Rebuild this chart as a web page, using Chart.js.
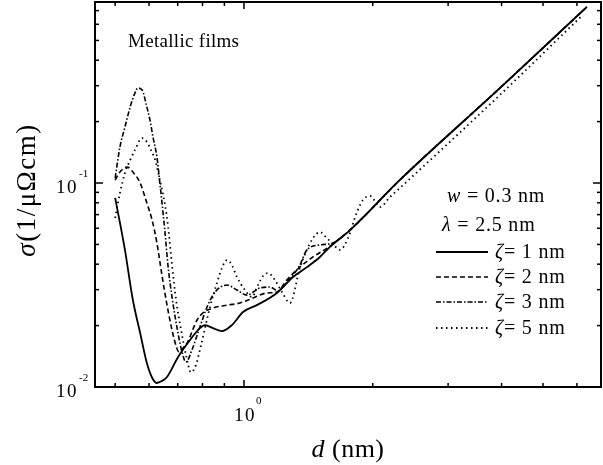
<!DOCTYPE html>
<html><head><meta charset="utf-8">
<script src="https://cdn.jsdelivr.net/npm/chart.js@4/dist/chart.umd.min.js"></script>
<style>html,body{margin:0;padding:0;background:#fff}#wrap{width:603px;height:465px}</style>
</head><body>
<div id="wrap"><canvas id="c" width="603" height="465"></canvas></div>
<script>
// ---- data ----
const dZeta1 = [0.500,0.527,0.550,0.572,0.593,0.610,0.626,0.643,0.661,0.701,0.748,0.789,0.811,0.846,0.888,0.937,0.995,1.072,1.194,1.302,1.403,1.505,1.588,1.769,2.314,3.963,6.33];
const sZeta1 = [0.0845,0.0470,0.0267,0.0184,0.0131,0.0111,0.01046,0.0107,0.0112,0.0140,0.0170,0.01945,0.0201,0.01945,0.0188,0.0201,0.0233,0.0252,0.0289,0.0346,0.0387,0.0434,0.0486,0.0588,0.1035,0.292,0.730];

const dZeta2 = [0.500,0.513,0.533,0.550,0.572,0.593,0.610,0.626,0.643,0.661,0.679,0.694,0.705,0.720,0.736,0.777,0.802,0.846,0.913,0.979,1.050,1.132,1.194,1.260,1.351,1.450,1.588,1.769,2.314,3.963,6.33];
const sZeta2 = [0.1034,0.1132,0.1198,0.1132,0.100,0.0798,0.0658,0.0508,0.0354,0.0252,0.0190,0.0159,0.01484,0.0155,0.0164,0.0213,0.0231,0.0244,0.0252,0.0258,0.0273,0.0289,0.0292,0.0335,0.0387,0.0434,0.0490,0.0588,0.1035,0.292,0.730];

const dZeta3 = [0.500,0.513,0.527,0.542,0.556,0.565,0.578,0.593,0.603,0.613,0.626,0.636,0.647,0.654,0.665,0.679,0.697,0.713,0.732,0.756,0.789,0.820,0.856,0.913,0.963,1.016,1.090,1.150,1.200,1.260,1.351,1.403,1.505,1.614,1.769,2.314,3.963,6.33];
const sZeta3 = [0.1058,0.1502,0.188,0.2358,0.276,0.292,0.2857,0.2358,0.2036,0.168,0.1341,0.100,0.0713,0.0569,0.0387,0.0276,0.0197,0.0155,0.01326,0.0152,0.0197,0.0247,0.0292,0.0316,0.0299,0.0282,0.0306,0.0309,0.0296,0.0327,0.0396,0.0470,0.0497,0.0508,0.0588,0.1035,0.292,0.730];

const dZeta5 = [0.500,0.513,0.527,0.542,0.556,0.578,0.593,0.603,0.620,0.636,0.654,0.665,0.679,0.694,0.713,0.732,0.752,0.772,0.794,0.833,0.865,0.888,0.913,0.937,0.963,1.005,1.044,1.078,1.108,1.138,1.181,1.227,1.281,1.351,1.403,1.450,1.505,1.563,1.614,1.677,1.750,1.837,1.897,1.970,2.079,2.193,2.314,3.963,6.19];
const sZeta5 = [0.0674,0.0893,0.112,0.1296,0.145,0.166,0.159,0.1484,0.1296,0.1034,0.0780,0.0608,0.0396,0.0267,0.0190,0.01435,0.0118,0.0128,0.0161,0.0247,0.0324,0.0383,0.0419,0.0396,0.0346,0.0299,0.0276,0.0316,0.0350,0.0362,0.0335,0.0292,0.0258,0.0383,0.0470,0.0537,0.0575,0.0537,0.0502,0.0470,0.0537,0.0721,0.0825,0.0864,0.0763,0.0853,0.0945,0.270,0.666];

const seriesLabels = ['ζ= 1 nm','ζ= 2 nm','ζ= 3 nm','ζ= 5 nm'];
const paramW = 'w';
const paramWText = ' = 0.3 nm';
const paramL = 'λ';
const paramLText = ' = 2.5 nm';
const panelTitle = 'Metallic films';

const xRange = [0.4486, 6.83];
const yRange = [0.01, 0.7716];
const xMajorTicks = [1];
const xMinorTicks = [0.5,0.6,0.7,0.8,0.9,2,3,4,5,6];
const yMajorTicks = [0.01,0.1];
const yMinorTicks = [0.02,0.03,0.04,0.05,0.06,0.07,0.08,0.09,0.2,0.3,0.4,0.5,0.6,0.7];
const xLabelValues = [1];
const xLabelExps = ['0'];
const yLabelValues = [0.01,0.1];
const yLabelExps = ['-2','-1'];

// ---- styles ----
const dashes = [[], [5,3], [5,2,1.5,2], [1.5,3.5]];
const widths = [1.8, 1.6, 1.6, 1.8];
const SERIF = "'Liberation Serif','Times New Roman',serif";

function pts(d, s){ return d.map((v,i)=>({x:v, y:s[i]})); }
const allD = [dZeta1,dZeta2,dZeta3,dZeta5];
const allS = [sZeta1,sZeta2,sZeta3,sZeta5];

function drawRuns(ctx, runs, x, y, size, align, spacing){
  const sp = spacing || 0;
  let total = 0;
  const ws = runs.map(r=>{ ctx.font = (r.i?'italic ':'') + size + 'px ' + SERIF; const w = ctx.measureText(r.t).width + sp*r.t.length; total += w; return w; });
  let cx = align==='center' ? x - total/2 : (align==='right' ? x - total : x);
  runs.forEach((r,k)=>{
    ctx.font = (r.i?'italic ':'') + size + 'px ' + SERIF; ctx.textAlign='left';
    if (sp) { for (const ch of r.t) { ctx.fillText(ch, cx, y); cx += ctx.measureText(ch).width + sp; } }
    else { ctx.fillText(r.t, cx, y); cx += ws[k]; }
  });
}

const decor = {
  id: 'decor',
  afterDatasetsDraw(chart){
    const {ctx, chartArea:a, scales:{x, y}} = chart;
    ctx.save();
    ctx.strokeStyle = '#000'; ctx.fillStyle = '#000';
    ctx.setLineDash([]);
    ctx.lineWidth = 2;
    ctx.strokeRect(a.left, a.top, a.right-a.left, a.bottom-a.top);
    const seg=(x1,y1,x2,y2)=>{ctx.beginPath();ctx.moveTo(x1,y1);ctx.lineTo(x2,y2);ctx.stroke();};
    ctx.lineWidth = 1.5;
    xMinorTicks.forEach(v=>{const p=x.getPixelForValue(v); seg(p,a.bottom,p,a.bottom-4); seg(p,a.top,p,a.top+4);});
    xMajorTicks.forEach(v=>{const p=x.getPixelForValue(v); seg(p,a.bottom,p,a.bottom-7); seg(p,a.top,p,a.top+7);});
    yMinorTicks.forEach(v=>{const p=y.getPixelForValue(v); seg(a.left,p,a.left+4,p); seg(a.right,p,a.right-4,p);});
    yMajorTicks.forEach(v=>{const p=y.getPixelForValue(v); seg(a.left,p,a.left+8,p); seg(a.right,p,a.right-8,p);});
    // tick labels
    ctx.textBaseline = 'alphabetic';
    xLabelValues.forEach((v,i)=>{
      const p = x.getPixelForValue(v);
      drawRuns(ctx, [{t:'10'}], p+1, a.bottom+34, 19, 'center', 1.5);
      ctx.font = '11px '+SERIF; ctx.textAlign='left'; ctx.fillText(xLabelExps[i], p+12, a.bottom+17);
    });
    yLabelValues.forEach((v,i)=>{
      const p = y.getPixelForValue(v);
      drawRuns(ctx, [{t:'10'}], 78, p+10, 19, 'right', 1.5);
      ctx.font = '11px '+SERIF; ctx.textAlign='left'; ctx.fillText(yLabelExps[i], 79, p-6);
    });
    // axis titles
    drawRuns(ctx, [{t:'d',i:true},{t:' (nm)'}], (a.left+a.right)/2, 457, 26, 'center', 0.5);
    ctx.save();
    ctx.translate(35, 190); ctx.rotate(-Math.PI/2);
    drawRuns(ctx, [{t:'σ',i:true},{t:'(1/μΩcm)'}], 0, 0, 27, 'center', 1.5);
    ctx.restore();
    // panel title
    drawRuns(ctx, [{t:panelTitle}], 128, 47, 19, 'left', 0.3);
    // params
    drawRuns(ctx, [{t:paramW,i:true},{t:paramWText}], 447, 202, 20, 'left', 0.8);
    drawRuns(ctx, [{t:paramL,i:true},{t:paramLText}], 442, 231, 20, 'left', 0.8);
    // legend rows
    const rows = [252,277,302,328];
    seriesLabels.forEach((lab,i)=>{
      ctx.setLineDash(dashes[i]); ctx.lineWidth = widths[i];
      seg(436, rows[i], 488, rows[i]);
      ctx.setLineDash([]);
      drawRuns(ctx, [{t:'ζ',i:true},{t:lab.slice(1)}], 495, rows[i]+6, 20, 'left', 0.8);
    });
    ctx.restore();
  }
};

new Chart(document.getElementById('c'), {
  type: 'line',
  data: {
    datasets: allD.map((d,i)=>({
      label: seriesLabels[i],
      data: pts(d, allS[i]),
      borderColor: '#000',
      backgroundColor: '#000',
      borderWidth: widths[i],
      borderDash: dashes[i],
      pointRadius: 0,
      fill: false,
      cubicInterpolationMode: 'monotone'
    }))
  },
  options: {
    responsive: false,
    animation: false,
    events: [],
    layout: { padding: { left: 95, right: 2, top: 2, bottom: 78 } },
    plugins: { legend: { display: false }, tooltip: { enabled: false } },
    scales: {
      x: { type: 'logarithmic', min: xRange[0], max: xRange[1], display: false },
      y: { type: 'logarithmic', min: yRange[0], max: yRange[1], display: false }
    }
  },
  plugins: [decor]
});
</script>
</body></html>
